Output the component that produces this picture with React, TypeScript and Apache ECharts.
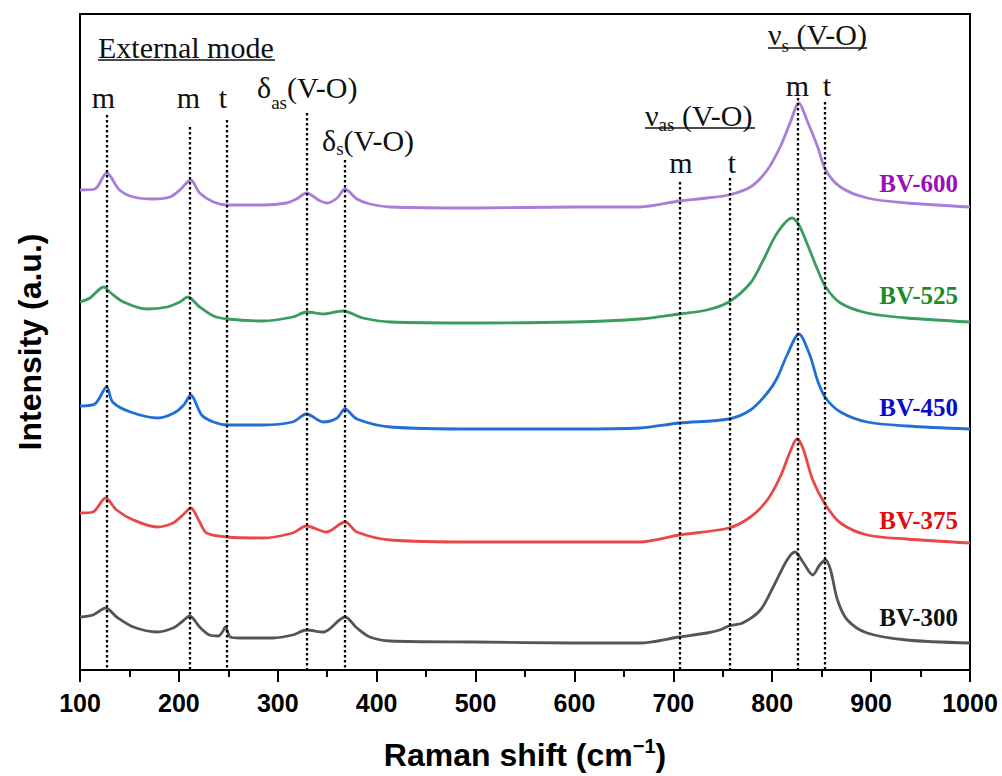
import React, { useEffect, useRef } from "react";
import * as echarts from "echarts";

// Raman spectra (x: Raman shift cm^-1, y: intensity in arbitrary units, stacked)
const bv600: [number, number][] = [
  [100, 480], [115, 481], [127, 497], [140, 480], [154, 473], [174, 471], [191, 473], [201, 480], [212, 490],
  [221, 477], [235, 468], [249, 465], [285, 465], [309, 467], [319, 471], [329, 477], [343, 469], [350, 467],
  [360, 472], [368, 481], [380, 471], [393, 466], [414, 463], [500, 462], [600, 463], [666, 463], [706, 469],
  [734, 472], [756, 475], [778, 483], [795, 500], [808, 523], [818, 547], [827, 567], [835, 550], [846, 523],
  [854, 500], [869, 483], [896, 472], [936, 467], [1000, 463],
];
const bv525: [number, number][] = [
  [100, 368], [110, 372], [124, 383], [130, 378], [144, 368], [168, 361], [188, 363], [201, 368], [209, 373],
  [221, 363], [235, 354], [249, 351], [285, 349], [315, 353], [329, 358], [346, 356], [366, 359], [386, 352],
  [414, 348], [500, 347], [600, 348], [666, 351], [706, 356], [734, 360], [756, 368], [778, 387], [791, 410],
  [805, 437], [820, 452], [827, 445], [835, 427], [846, 400], [854, 383], [869, 367], [896, 357], [936, 352],
  [1000, 348],
];
const bv450: [number, number][] = [
  [100, 264], [115, 266], [127, 283], [133, 268], [151, 258], [179, 252], [195, 257], [205, 265], [212, 275],
  [223, 255], [235, 248], [249, 245], [285, 245], [315, 248], [329, 256], [346, 248], [360, 252], [368, 261],
  [380, 251], [414, 243], [500, 241], [600, 241], [666, 242], [706, 247], [756, 251], [778, 260], [795, 277],
  [805, 292], [815, 315], [827, 336], [838, 315], [846, 289], [854, 272], [869, 258],
  [896, 248], [936, 244], [1000, 241],
];
const bv375: [number, number][] = [
  [100, 157], [113, 158], [126, 172], [137, 160], [154, 150], [178, 143], [194, 147], [204, 155], [212, 162],
  [221, 148], [228, 137], [249, 133], [285, 132], [315, 137], [329, 144], [349, 138], [368, 148], [380, 138],
  [414, 130], [500, 128], [600, 128], [666, 128], [706, 135], [756, 142], [778, 153], [795, 170], [808, 193],
  [818, 218], [825, 231], [831, 222], [841, 190], [854, 165], [869, 147], [896, 135], [936, 131], [1000, 127],
];
const bv300: [number, number][] = [
  [100, 53], [113, 55], [126, 62], [137, 53], [154, 43], [178, 38], [194, 42], [204, 49], [211, 54], [221, 43],
  [231, 35], [240, 34], [244, 38], [247, 43], [252, 33], [262, 32], [295, 32], [315, 35], [329, 40], [346, 38],
  [368, 53], [380, 42], [393, 33], [414, 29], [500, 28], [600, 27], [666, 27], [706, 33], [734, 37], [747, 40],
  [756, 44], [770, 47], [788, 60], [801, 83], [815, 110], [823, 118], [831, 108], [841, 95], [848, 105],
  [854, 110], [859, 100], [866, 70], [876, 50], [896, 37], [936, 30], [1000, 27],
];

const seriesNames = ["BV-300", "BV-375", "BV-450", "BV-525", "BV-600"];
const seriesData = [bv300, bv375, bv450, bv525, bv600];
const lineColors = ["#555555", "#e84848", "#1f6fd4", "#3a9c5e", "#a97dd8"];
const labelColors = ["#111111", "#e00d0d", "#0a0acc", "#1a8a2a", "#9a10b8"];

// Assigned band positions (dotted guide lines) and how high each guide reaches
const bandPositions = [127, 211, 248, 329, 368, 706, 757, 826, 853];
const bandTops = [555, 543, 550, 557, 510, 488, 492, 572, 568];

const X_MIN = 100;
const X_MAX = 1000;
const X_STEP = 100;
const Y_MAX = 656;

const SERIF = '"Liberation Serif", "Times New Roman", serif';
const SANS = '"Liberation Sans", Arial, sans-serif';

function label(x: number, y: number, text: string, align: string = "left", extra: any = {}) {
  return {
    type: "text",
    x,
    y,
    silent: true,
    style: {
      text,
      fontFamily: SERIF,
      fontSize: 30,
      fill: "#111",
      align,
      verticalAlign: "middle",
      ...extra,
    },
  };
}

function subLabel(x: number, y: number, main: string, sub: string, rest: string, pad: number) {
  return {
    type: "text",
    x,
    y,
    silent: true,
    style: {
      text: `{a|${main}}{b|${sub}}{a|${rest}}`,
      fill: "#111",
      align: "left",
      verticalAlign: "middle",
      rich: {
        a: { fontFamily: SERIF, fontSize: 30, fill: "#111" },
        b: { fontFamily: SERIF, fontSize: 19, fill: "#111", padding: [pad, 0, 0, 0] },
      },
    },
  };
}

function underline(x1: number, x2: number, y: number) {
  return {
    type: "line",
    silent: true,
    shape: { x1, y1: y, x2, y2: y },
    style: { stroke: "#111", lineWidth: 1.5 },
  };
}

const seriesLabelY = [617, 520, 407, 295, 183];

export default function App() {
  const ref = useRef<HTMLDivElement>(null);

  useEffect(() => {
    document.body.style.margin = "0";
    if (!ref.current) return;
    const chart = echarts.init(ref.current, null, { renderer: "svg" });

    const graphics: any[] = [
      label(98, 47, "External mode"),
      underline(98, 275, 60),
      label(103.5, 97, "m", "center"),
      label(188.5, 97, "m", "center"),
      label(223, 97, "t", "center"),
      subLabel(257, 87, "δ", "as", "(V-O)", 30),
      subLabel(322, 140, "δ", "s", "(V-O)", 17),
      subLabel(645, 115, "ν", "as", " (V-O)", 19),
      underline(645, 755, 128),
      label(681, 162, "m", "center"),
      label(732, 162, "t", "center"),
      subLabel(768, 34, "ν", "s", " (V-O)", 23),
      underline(768, 867, 48),
      label(797.5, 85, "m", "center"),
      label(827, 85, "t", "center"),
    ];
    seriesNames.forEach((n, i) => {
      graphics.push(
        label(958, seriesLabelY[i], n, "right", {
          fontSize: 25,
          fontWeight: "bold",
          fill: labelColors[i],
        })
      );
    });

    const series: any[] = seriesNames.map((name, i) => ({
      name,
      type: "line",
      data: seriesData[i],
      showSymbol: false,
      smooth: 0.3,
      lineStyle: { color: lineColors[i], width: 2.8 },
      itemStyle: { color: lineColors[i] },
      z: 2,
    }));
    series.push({
      name: "bands",
      type: "line",
      data: [],
      z: 3,
      markLine: {
        silent: true,
        symbol: ["none", "none"],
        label: { show: false },
        lineStyle: { color: "#000", width: 2.3, type: [2.5, 2.5] },
        data: bandPositions.map((x, i) => [{ coord: [x, bandTops[i]] }, { coord: [x, 0] }]),
      },
    });

    chart.setOption({
      animation: false,
      backgroundColor: "#fff",
      grid: {
        left: 80,
        right: 32,
        top: 14,
        bottom: 106,
        show: true,
        borderColor: "#000",
        borderWidth: 2,
        backgroundColor: "transparent",
      },
      xAxis: {
        type: "value",
        min: X_MIN,
        max: X_MAX,
        interval: X_STEP,
        name: "{a|Raman shift (cm}{b|−1}{a|)}",
        nameLocation: "middle",
        nameGap: 66,
        nameTextStyle: {
          rich: {
            a: { fontFamily: SANS, fontSize: 32, fontWeight: "bold", color: "#000" },
            b: { fontFamily: SANS, fontSize: 20, fontWeight: "bold", color: "#000", padding: [0, 0, 18, 0] },
          },
        },
        axisLine: { show: true, onZero: false, lineStyle: { color: "#000", width: 2 } },
        axisTick: { show: true, length: 12, lineStyle: { color: "#000", width: 2 } },
        minorTick: { show: true, splitNumber: 2, length: 7, lineStyle: { color: "#000", width: 2 } },
        axisLabel: {
          fontFamily: SANS,
          fontSize: 25,
          fontWeight: "bold",
          color: "#000",
          margin: 20,
          showMinLabel: true,
          showMaxLabel: true,
          formatter: (v: number) => String(v),
        },
        splitLine: { show: false },
      },
      yAxis: {
        type: "value",
        min: 0,
        max: Y_MAX,
        name: "Intensity (a.u.)",
        nameLocation: "middle",
        nameGap: 34,
        nameTextStyle: { fontFamily: SANS, fontSize: 32, fontWeight: "bold", color: "#000" },
        axisLine: { show: true, lineStyle: { color: "#000", width: 2 } },
        axisTick: { show: false },
        axisLabel: { show: false },
        splitLine: { show: false },
      },
      graphic: graphics,
      series,
    });

    return () => chart.dispose();
  }, []);

  return (
    <div
      ref={ref}
      style={{ width: 1002, height: 776, position: "absolute", left: 0, top: 0, background: "#fff" }}
    />
  );
}
